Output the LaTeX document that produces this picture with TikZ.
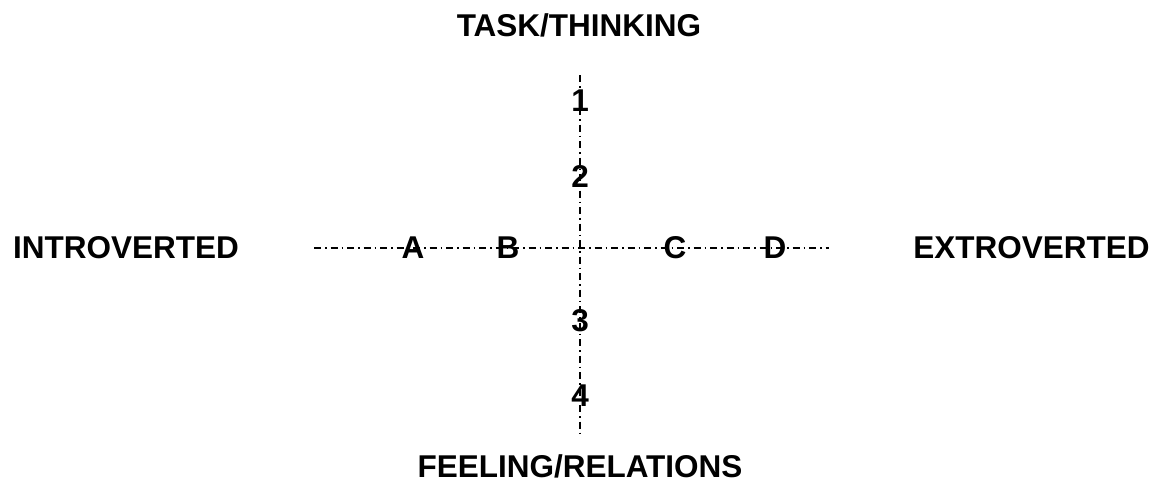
\documentclass[tikz,border=0pt]{standalone}
\usepackage{fontspec}
\setmainfont{Liberation Sans}
\begin{document}
\begin{tikzpicture}[x=1pt,y=-1pt,
  lbl/.style={font=\fontsize{31.5}{36}\selectfont\bfseries, inner sep=0pt, anchor=center},
  axisline/.style={line width=1.4pt, dash pattern=on 7pt off 4pt on 1.5pt off 4pt}]
\useasboundingbox (0,0) rectangle (1158,482);
\coordinate (top) at (580,75);
\coordinate (bot) at (580,436);
\coordinate (lft) at (314,248);
\coordinate (rgt) at (829,248);
\draw[axisline] (top) -- (bot);
\draw[axisline] (lft) -- (rgt);
\node[lbl] (task) at (579,25.5) {TASK/THINKING};
\node[lbl] (feel) at (580,466.5) {FEELING/RELATIONS};
\node[lbl] (intro) at (126,247.5) {INTROVERTED};
\node[lbl] (extro) at (1031.5,247.5) {EXTROVERTED};
\node[lbl] (n1) at (580,101) {1};
\node[lbl] (n2) at (580,176) {2};
\node[lbl] (n3) at (580,321) {3};
\node[lbl] (n4) at (580,396) {4};
\node[lbl] (a) at (413,248) {A};
\node[lbl] (b) at (508,248) {B};
\node[lbl] (c) at (675,248) {C};
\node[lbl] (d) at (775,248) {D};
\end{tikzpicture}
\end{document}
